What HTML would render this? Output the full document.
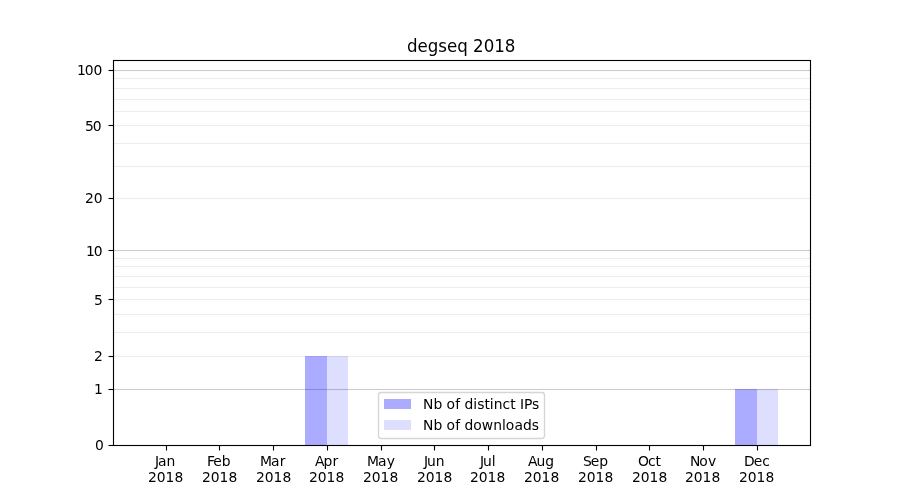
<!DOCTYPE html>
<html lang="en"><head><meta charset="utf-8"><title>degseq 2018</title>
<style>html,body{margin:0;padding:0;background:#fff;}body{width:900px;height:500px;overflow:hidden;}svg{display:block;}text{font-family:'DejaVu Sans', 'Liberation Sans', sans-serif;fill:#000;}</style></head><body>
<svg width="900" height="500" viewBox="0 0 900 500">
<rect x="0" y="0" width="900" height="500" fill="#ffffff"/>
<g id="grid">
<rect x="114" y="388" width="696" height="3" fill="#cccccc" fill-opacity="0.057"/>
<line x1="113" x2="810" y1="389.5" y2="389.5" stroke="#cccccc" stroke-width="1.11"/>
<rect x="114" y="355" width="696" height="3" fill="#ededed" fill-opacity="0.057"/>
<line x1="113" x2="810" y1="356.5" y2="356.5" stroke="#ededed" stroke-width="1.11"/>
<rect x="114" y="331" width="696" height="3" fill="#ededed" fill-opacity="0.057"/>
<line x1="113" x2="810" y1="332.5" y2="332.5" stroke="#ededed" stroke-width="1.11"/>
<rect x="114" y="313" width="696" height="3" fill="#ededed" fill-opacity="0.057"/>
<line x1="113" x2="810" y1="314.5" y2="314.5" stroke="#ededed" stroke-width="1.11"/>
<rect x="114" y="298" width="696" height="3" fill="#ededed" fill-opacity="0.057"/>
<line x1="113" x2="810" y1="299.5" y2="299.5" stroke="#ededed" stroke-width="1.11"/>
<rect x="114" y="286" width="696" height="3" fill="#ededed" fill-opacity="0.057"/>
<line x1="113" x2="810" y1="287.5" y2="287.5" stroke="#ededed" stroke-width="1.11"/>
<rect x="114" y="275" width="696" height="3" fill="#ededed" fill-opacity="0.057"/>
<line x1="113" x2="810" y1="276.5" y2="276.5" stroke="#ededed" stroke-width="1.11"/>
<rect x="114" y="265" width="696" height="3" fill="#ededed" fill-opacity="0.057"/>
<line x1="113" x2="810" y1="266.5" y2="266.5" stroke="#ededed" stroke-width="1.11"/>
<rect x="114" y="257" width="696" height="3" fill="#ededed" fill-opacity="0.057"/>
<line x1="113" x2="810" y1="258.5" y2="258.5" stroke="#ededed" stroke-width="1.11"/>
<rect x="114" y="249" width="696" height="3" fill="#cccccc" fill-opacity="0.057"/>
<line x1="113" x2="810" y1="250.5" y2="250.5" stroke="#cccccc" stroke-width="1.11"/>
<rect x="114" y="197" width="696" height="3" fill="#ededed" fill-opacity="0.057"/>
<line x1="113" x2="810" y1="198.5" y2="198.5" stroke="#ededed" stroke-width="1.11"/>
<rect x="114" y="165" width="696" height="3" fill="#ededed" fill-opacity="0.057"/>
<line x1="113" x2="810" y1="166.5" y2="166.5" stroke="#ededed" stroke-width="1.11"/>
<rect x="114" y="142" width="696" height="3" fill="#ededed" fill-opacity="0.057"/>
<line x1="113" x2="810" y1="143.5" y2="143.5" stroke="#ededed" stroke-width="1.11"/>
<rect x="114" y="124" width="696" height="3" fill="#ededed" fill-opacity="0.057"/>
<line x1="113" x2="810" y1="125.5" y2="125.5" stroke="#ededed" stroke-width="1.11"/>
<rect x="114" y="110" width="696" height="3" fill="#ededed" fill-opacity="0.057"/>
<line x1="113" x2="810" y1="111.5" y2="111.5" stroke="#ededed" stroke-width="1.11"/>
<rect x="114" y="98" width="696" height="3" fill="#ededed" fill-opacity="0.057"/>
<line x1="113" x2="810" y1="99.5" y2="99.5" stroke="#ededed" stroke-width="1.11"/>
<rect x="114" y="87" width="696" height="3" fill="#ededed" fill-opacity="0.057"/>
<line x1="113" x2="810" y1="88.5" y2="88.5" stroke="#ededed" stroke-width="1.11"/>
<rect x="114" y="77" width="696" height="3" fill="#ededed" fill-opacity="0.057"/>
<line x1="113" x2="810" y1="78.5" y2="78.5" stroke="#ededed" stroke-width="1.11"/>
<rect x="114" y="69" width="696" height="3" fill="#cccccc" fill-opacity="0.057"/>
<line x1="113" x2="810" y1="70.5" y2="70.5" stroke="#cccccc" stroke-width="1.11"/>
</g>
<g id="bars">
<rect x="305" y="356" width="22" height="89.5" fill="#0000ff" fill-opacity="0.33"/>
<rect x="327" y="356" width="21" height="89.5" fill="#0000ff" fill-opacity="0.13"/>
<rect x="735" y="389" width="22" height="56.5" fill="#0000ff" fill-opacity="0.33"/>
<rect x="757" y="389" width="21" height="56.5" fill="#0000ff" fill-opacity="0.13"/>
</g>
<g id="ticks" stroke="#000" stroke-width="1.11">
<line x1="166.5" x2="166.5" y1="445.5" y2="450.5"/>
<line x1="219.5" x2="219.5" y1="445.5" y2="450.5"/>
<line x1="273.5" x2="273.5" y1="445.5" y2="450.5"/>
<line x1="327.5" x2="327.5" y1="445.5" y2="450.5"/>
<line x1="381.5" x2="381.5" y1="445.5" y2="450.5"/>
<line x1="434.5" x2="434.5" y1="445.5" y2="450.5"/>
<line x1="488.5" x2="488.5" y1="445.5" y2="450.5"/>
<line x1="542.5" x2="542.5" y1="445.5" y2="450.5"/>
<line x1="596.5" x2="596.5" y1="445.5" y2="450.5"/>
<line x1="649.5" x2="649.5" y1="445.5" y2="450.5"/>
<line x1="703.5" x2="703.5" y1="445.5" y2="450.5"/>
<line x1="757.5" x2="757.5" y1="445.5" y2="450.5"/>
<line x1="108.5" x2="113" y1="445.5" y2="445.5"/>
<line x1="108.5" x2="113" y1="389.5" y2="389.5"/>
<line x1="108.5" x2="113" y1="356.5" y2="356.5"/>
<line x1="108.5" x2="113" y1="299.5" y2="299.5"/>
<line x1="108.5" x2="113" y1="250.5" y2="250.5"/>
<line x1="108.5" x2="113" y1="198.5" y2="198.5"/>
<line x1="108.5" x2="113" y1="125.5" y2="125.5"/>
<line x1="108.5" x2="113" y1="70.5" y2="70.5"/>
</g>
<rect x="113.5" y="60.5" width="697" height="385" fill="none" stroke="#000" stroke-width="1.11"/>
<rect x="378.5" y="392.5" width="166" height="46" rx="2.78" fill="#ffffff" fill-opacity="0.8" stroke="#cccccc" stroke-opacity="0.8" stroke-width="1.39"/>
<rect x="384" y="399" width="27" height="10" fill="#0000ff" fill-opacity="0.33"/>
<rect x="384" y="420" width="27" height="10" fill="#0000ff" fill-opacity="0.13"/>
<g id="labels" font-size="13.889">
<text x="154.99 158.09 166.59" y="466.00">Jan</text>
<text x="147.90 156.73 165.56 174.38" y="482.00">2018</text>
<text x="206.89 213.25 221.78" y="466.00">Feb</text>
<text x="201.89 210.71 219.54 228.50" y="482.00">2018</text>
<text x="260.07 271.04 279.79" y="466.00">Mar</text>
<text x="256.00 264.83 273.53 282.48" y="482.00">2018</text>
<text x="314.89 323.51 332.57" y="466.00">Apr</text>
<text x="308.99 317.81 326.52 335.47" y="482.00">2018</text>
<text x="366.91 378.01 386.76" y="466.00">May</text>
<text x="362.97 371.80 380.50 389.45" y="482.00">2018</text>
<text x="423.91 427.00 435.79" y="466.00">Jun</text>
<text x="416.96 425.79 434.61 443.44" y="482.00">2018</text>
<text x="479.99 482.96 491.75" y="466.00">Jul</text>
<text x="469.94 478.77 487.60 496.43" y="482.00">2018</text>
<text x="527.92 536.54 545.33" y="466.00">Aug</text>
<text x="523.93 532.76 541.59 550.41" y="482.00">2018</text>
<text x="582.88 590.81 599.34" y="466.00">Sep</text>
<text x="577.92 586.75 595.57 604.40" y="482.00">2018</text>
<text x="637.95 648.12 655.62" y="466.00">Oct</text>
<text x="631.90 640.73 649.56 658.39" y="482.00">2018</text>
<text x="689.88 699.26 708.00" y="466.00">Nov</text>
<text x="684.89 693.72 702.55 711.50" y="482.00">2018</text>
<text x="743.99 753.80 762.33" y="466.00">Dec</text>
<text x="738.88 747.70 756.53 765.49" y="482.00">2018</text>
<text x="94.90" y="450.00">0</text>
<text x="93.90" y="394.00">1</text>
<text x="94.03" y="361.00">2</text>
<text x="94.03" y="305.00">5</text>
<text x="85.90 93.86" y="256.00">10</text>
<text x="85.03 93.86" y="203.00">20</text>
<text x="84.90 92.86" y="131.00">50</text>
<text x="76.90 84.73 93.56" y="75.00">100</text>
<text x="423.12 433.50 442.31 446.59 455.21 460.09 464.50 473.31 477.16 484.39 489.83 493.69 502.48 510.23 515.55 519.96 524.05 532.04" y="409.23">Nb of distinct IPs</text>
<text x="423.12 433.50 442.31 446.59 455.21 460.09 464.50 473.31 481.80 493.14 501.94 505.79 514.41 522.91 531.72" y="429.61">Nb of downloads</text>
</g>
<text transform="translate(461.17 51.67) scale(0.9259 1)" x="0" y="0" text-anchor="middle" font-size="18">degseq 2018</text>
</svg></body></html>
